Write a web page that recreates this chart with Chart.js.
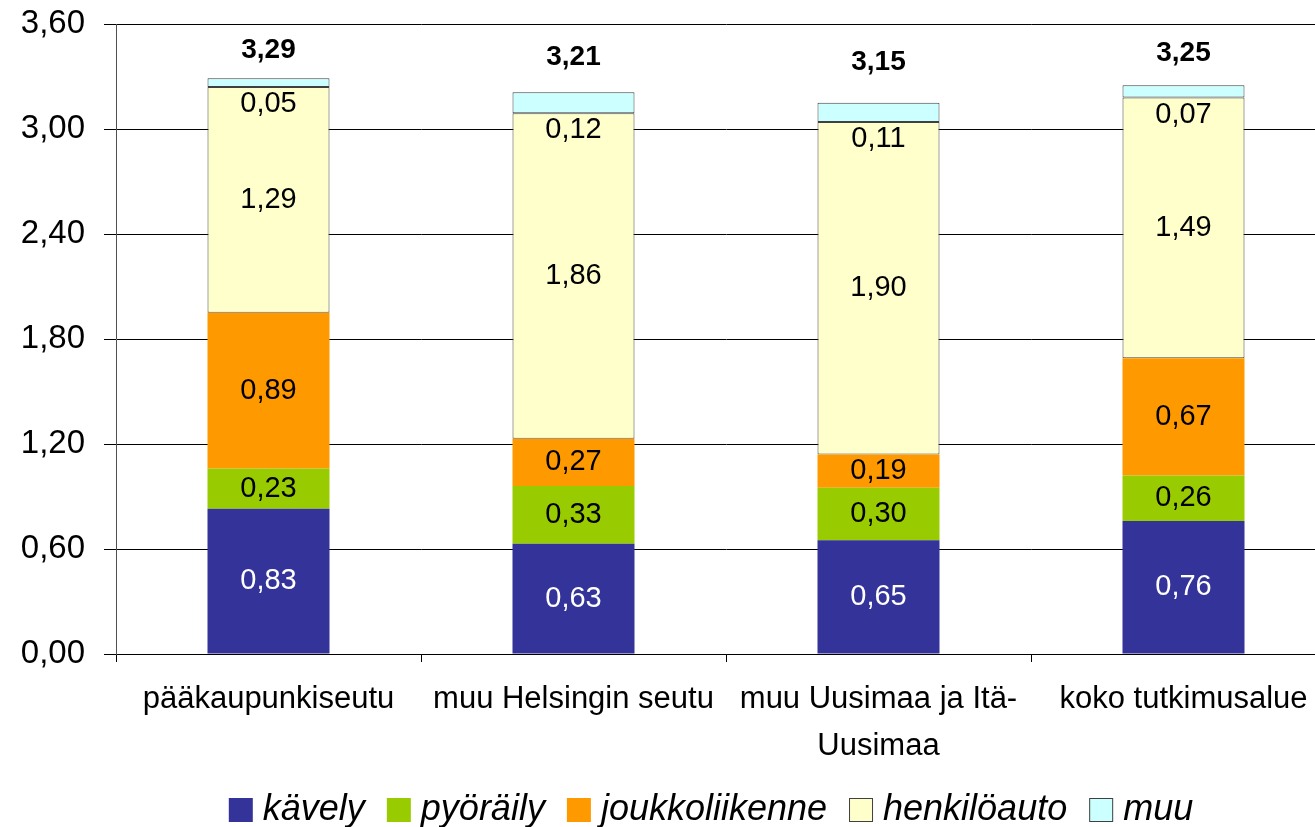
<!DOCTYPE html>
<html><head><meta charset="utf-8">
<script src="https://cdn.jsdelivr.net/npm/chart.js@4.4.0/dist/chart.umd.min.js"></script>
<style>
html,body{margin:0;padding:0;background:#fff;overflow:hidden;width:1315px;height:827px}
#wrap{width:1315px;height:827px;overflow:hidden;position:relative}
canvas{position:absolute;left:0;top:0}
</style></head>
<body><div id="wrap"><canvas id="c" width="1340" height="827" style="width:1340px;height:827px"></canvas></div>
<script>
const categories = ['pääkaupunkiseutu', 'muu Helsingin seutu', ['muu Uusimaa ja Itä-', 'Uusimaa'], 'koko tutkimusalue'];
const kavely = [0.83, 0.63, 0.65, 0.76];
const pyoraily = [0.23, 0.33, 0.30, 0.26];
const joukkoliikenne = [0.89, 0.27, 0.19, 0.67];
const henkiloauto = [1.29, 1.86, 1.90, 1.49];
const muu = [0.05, 0.12, 0.11, 0.07];
const totals = [3.29, 3.21, 3.15, 3.25];
const yTicks = [0, 0.6, 1.2, 1.8, 2.4, 3.0, 3.6];

const FONT = '"Liberation Sans", Arial, sans-serif';
const fmt = v => v.toFixed(2).replace('.', ',');

const datasets = [
  {label: 'kävely', data: kavely, backgroundColor: '#333399', borderWidth: 0, labelColor: '#ffffff'},
  {label: 'pyöräily', data: pyoraily, backgroundColor: '#99CC00', borderWidth: 0, labelColor: '#000000'},
  {label: 'joukkoliikenne', data: joukkoliikenne, backgroundColor: '#FF9900', borderWidth: 0, labelColor: '#000000'},
  {label: 'henkilöauto', data: henkiloauto, backgroundColor: '#FFFFCC', borderColor: '#404040', borderWidth: 1, borderSkipped: false, labelColor: '#000000'},
  {label: 'muu', data: muu, backgroundColor: '#CCFFFF', borderColor: '#404040', borderWidth: 1, borderSkipped: false, labelColor: '#000000', labelBelow: true}
];
datasets.forEach(d => { d.barPercentage = 0.4; d.categoryPercentage = 1.0; });

const valuePlugin = {
  id: 'values',
  afterDatasetsDraw(chart) {
    const ctx = chart.ctx;
    ctx.save();
    ctx.textAlign = 'center';
    ctx.textBaseline = 'middle';
    ctx.font = '29px ' + FONT;
    chart.data.datasets.forEach((ds, i) => {
      const meta = chart.getDatasetMeta(i);
      meta.data.forEach((bar, j) => {
        const v = ds.data[j];
        const y = ds.labelBelow ? bar.base + 17 : (bar.y + bar.base) / 2;
        ctx.fillStyle = ds.labelColor;
        ctx.fillText(fmt(v), bar.x, y);
      });
    });
    ctx.font = 'bold 28px ' + FONT;
    ctx.fillStyle = '#000';
    const ys = chart.scales.y, xs = chart.scales.x;
    totals.forEach((t, j) => {
      const py = ys.getPixelForValue(t);
      ctx.fillText(fmt(t), xs.getPixelForValue(j), (py + chart.chartArea.top) / 2 - 1);
    });
    ctx.restore();
  },
  afterDraw(chart) {
    const ctx = chart.ctx;
    ctx.save();
    ctx.font = 'italic 36px ' + FONT;
    const box = 24, gap = 10, spacing = 22;
    const items = chart.data.datasets.map(ds => ({ds, w: ctx.measureText(ds.label).width}));
    const total = items.reduce((s, it) => s + box + gap + it.w, 0) + spacing * (items.length - 1);
    let x = 711 - total / 2;
    const cy = 810;
    ctx.textBaseline = 'alphabetic';
    ctx.textAlign = 'left';
    items.forEach(it => {
      ctx.fillStyle = it.ds.backgroundColor;
      ctx.fillRect(x, cy - box / 2, box, box);
      if (it.ds.borderWidth) {
        ctx.strokeStyle = it.ds.borderColor;
        ctx.lineWidth = 1;
        ctx.strokeRect(x + 0.5, cy - box / 2 + 0.5, box - 1, box - 1);
      }
      ctx.fillStyle = '#000';
      ctx.fillText(it.ds.label, x + box + gap, 820);
      x += box + gap + it.w + spacing;
    });
    ctx.restore();
  }
};

new Chart(document.getElementById('c'), {
  type: 'bar',
  data: {labels: categories, datasets},
  options: {
    responsive: false,
    animation: false,
    devicePixelRatio: 1,
    layout: {padding: {top: 24, right: 4, bottom: 53, left: 0}},
    plugins: {legend: {display: false}, tooltip: {enabled: false}},
    scales: {
      x: {
        stacked: true,
        grid: {offset: true, drawOnChartArea: false, drawTicks: true, tickLength: 8, color: '#000'},
        border: {color: '#000', width: 1},
        ticks: {color: '#000', font: {family: FONT, size: 31, lineHeight: 1.52}, maxRotation: 0, minRotation: 0, autoSkip: false, padding: 14},
        afterFit: s => { s.height = 120; s.paddingLeft = 0; s.paddingRight = 0; }
      },
      y: {
        stacked: true,
        min: 0, max: 3.6,
        afterBuildTicks: s => { s.ticks = yTicks.map(v => ({value: v})); },
        grid: {color: '#000', lineWidth: 1, tickLength: 12},
        border: {color: '#505050', width: 1},
        ticks: {color: '#000', font: {family: FONT, size: 33}, padding: 19, callback: v => fmt(v)},
        afterFit: s => { s.width = 116; s.paddingTop = 0; s.paddingBottom = 0; }
      }
    }
  },
  plugins: [valuePlugin]
});
</script>
</body></html>
